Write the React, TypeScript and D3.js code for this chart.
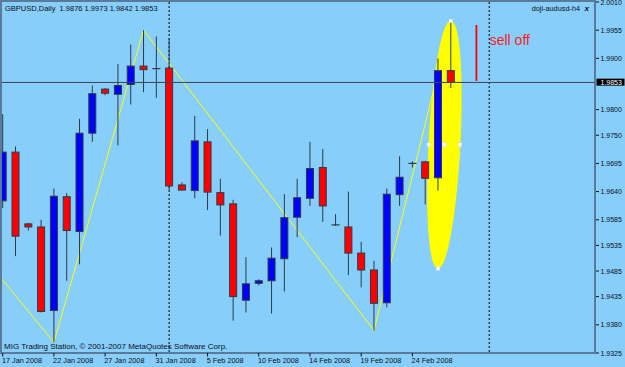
import React from "react";
import * as d3 from "d3";

// ---- data ----
const opens = [1.9622, 1.9717, 1.9577, 1.9571, 1.9408, 1.9630, 1.9562, 1.9754, 1.9840, 1.9830, 1.9849, 1.9885, 1.9880, 1.9881, 1.9653, 1.9642, 1.9737, 1.9638, 1.9616, 1.9428, 1.9461, 1.9466, 1.9509, 1.9590, 1.9627, 1.9687, 1.9575, 1.9571, 1.9520, 1.9487, 1.9423, 1.9634, 1.9695, 1.9698, 1.9667, 1.9876];
const highs = [1.9791, 1.9728, 1.9579, 1.9585, 1.9646, 1.9637, 1.9782, 1.9847, 1.9842, 1.9889, 1.9927, 1.9955, 1.9943, 1.9939, 1.9658, 1.9788, 1.9762, 1.9665, 1.9624, 1.9512, 1.9469, 1.9531, 1.9635, 1.9665, 1.9737, 1.9723, 1.9596, 1.9640, 1.9542, 1.9505, 1.9646, 1.9709, 1.9699, 1.9700, 1.9900, 1.9973];
const lows = [1.9608, 1.9514, 1.9564, 1.9404, 1.9346, 1.9466, 1.9498, 1.9737, 1.9828, 1.9730, 1.9810, 1.9834, 1.9823, 1.9643, 1.9642, 1.9627, 1.9604, 1.9554, 1.9388, 1.9404, 1.9457, 1.9402, 1.9445, 1.9551, 1.9612, 1.9581, 1.9573, 1.9477, 1.9453, 1.9369, 1.9414, 1.9612, 1.9687, 1.9615, 1.9642, 1.9842];
const closes = [1.9717, 1.9553, 1.9571, 1.9406, 1.9631, 1.9564, 1.9754, 1.9831, 1.9832, 1.9847, 1.9885, 1.9878, 1.9880, 1.9651, 1.9643, 1.9739, 1.9639, 1.9614, 1.9435, 1.9460, 1.9466, 1.9510, 1.9589, 1.9628, 1.9685, 1.9612, 1.9575, 1.9520, 1.9487, 1.9422, 1.9635, 1.9668, 1.9695, 1.9666, 1.9876, 1.9853];

const dateLabels = ["17 Jan 2008", "22 Jan 2008", "27 Jan 2008", "31 Jan 2008", "5 Feb 2008", "10 Feb 2008", "14 Feb 2008", "19 Feb 2008", "24 Feb 2008"];
const dateLabelIdx = [0, 4, 8, 12, 16, 20, 24, 28, 32];

const priceTicks = [2.001, 1.9955, 1.99, 1.98, 1.975, 1.9695, 1.964, 1.9585, 1.9535, 1.9485, 1.9435, 1.938, 1.9325];
const bidPrice = 1.9853;

const zigzagIdx = [-3, 4, 11, 29, 35];
const zigzagPrice = [1.9558, 1.9346, 1.9955, 1.9369, 1.9973];

const separatorIdx = [13, 38];

const ellipseIdx = [35, 34];
const ellipsePrice = [1.9973, 1.949];

const sellLineIdx = 37;
const sellLinePrice = [1.9965, 1.9856];
const sellTextIdx = 38;
const sellTextPrice = 1.9955;

const headerText = "GBPUSD,Daily  1.9876 1.9973 1.9842 1.9853";
const indicatorText = "doji-audusd-h4";
const copyrightText = "MIG Trading Station, \u00a9 2001-2007 MetaQuotes Software Corp.";

// ---- styles ----
const W = 625;
const H = 367;
const BG = "#87CEFA";
const FRAME = "#5a7a99";
const WICK = "#2e3a46";
const TXT = "#0c1018";
const FONT = "'Liberation Sans', Arial, sans-serif";

export default function App() {
  const plot = { left: 2, top: 2, right: 594, bottom: 352 };
  const x = d3.scaleLinear().domain([0, 35]).range([2.7, 450.8]);
  const y = d3.scaleLinear().domain([1.9325, 2.001]).range([353, 2]);

  const bodyW = 7;

  // ellipse
  const T = [x(ellipseIdx[0]), y(ellipsePrice[0])];
  const B = [x(ellipseIdx[1]), y(ellipsePrice[1])];
  const C = [(T[0] + B[0]) / 2, (T[1] + B[1]) / 2];
  const M = [T[0] - C[0], T[1] - C[1]];
  const N = [15.5, 0];
  const ts = d3.range(0, 128).map((k) => (k / 128) * Math.PI * 2);
  const ellPath = d3
    .line<number>()
    .x((t) => C[0] + M[0] * Math.cos(t) + N[0] * Math.sin(t))
    .y((t) => C[1] + M[1] * Math.cos(t) + N[1] * Math.sin(t))
    .curve(d3.curveLinearClosed)(ts);
  const handles = [T, B, [C[0] - N[0], C[1]], [C[0] + N[0], C[1]], C];

  const zz = d3
    .line<number>()
    .x((d, i) => x(zigzagIdx[i]))
    .y((d) => y(d))(zigzagPrice);

  const bidY = y(bidPrice);

  return (
    <svg
      width={W}
      height={H}
      style={{ position: "absolute", left: 0, top: 0, display: "block" }}
      fontFamily={FONT}
    >
      <defs>
        <clipPath id="plotClip">
          <rect x={plot.left} y={plot.top} width={plot.right - plot.left} height={plot.bottom - plot.top} />
        </clipPath>
      </defs>
      <rect x={0} y={0} width={W} height={H} fill={BG} />

      <g clipPath="url(#plotClip)">
        {/* ellipse object */}
        <path d={ellPath || ""} fill="#ffff00" stroke="#ffff00" strokeWidth={1} />

        {/* period separators */}
        {separatorIdx.map((s) => (
          <line key={"sep" + s} x1={x(s)} x2={x(s)} y1={plot.top} y2={plot.bottom} stroke="#000" strokeWidth={1} strokeDasharray="2,2" />
        ))}

        {/* zigzag */}
        <path d={zz || ""} fill="none" stroke="#ffff00" strokeWidth={1} />

        {/* candles */}
        {opens.map((o, i) => {
          const c = closes[i];
          const cx = x(i);
          const top = y(Math.max(o, c));
          const bot = y(Math.min(o, c));
          const up = c > o;
          const doji = Math.abs(c - o) < 0.00005;
          return (
            <g key={"c" + i}>
              <line x1={cx} x2={cx} y1={y(highs[i])} y2={y(lows[i])} stroke={WICK} strokeWidth={1} />
              {doji ? (
                <line x1={cx - 4} x2={cx + 4} y1={top} y2={top} stroke={WICK} strokeWidth={1.2} />
              ) : (
                <rect
                  x={cx - bodyW / 2}
                  y={top}
                  width={bodyW}
                  height={Math.max(1, bot - top)}
                  fill={up ? "#0000ff" : "#ff0000"}
                  stroke={WICK}
                  strokeWidth={1}
                />
              )}
            </g>
          );
        })}

        {/* bid line */}
        <line x1={plot.left} x2={plot.right} y1={bidY} y2={bidY} stroke="#3a4552" strokeWidth={1} />

        {/* sell off annotation */}
        <line
          x1={x(sellLineIdx)}
          x2={x(sellLineIdx)}
          y1={y(sellLinePrice[0])}
          y2={y(sellLinePrice[1])}
          stroke="#ff0000"
          strokeWidth={1.8}
        />
        <text x={x(sellTextIdx) + 0.5} y={y(sellTextPrice) + 15} fontSize={14} fill="#ff1a1a">
          sell off
        </text>

        {/* ellipse handles */}
        {handles.map((h, k) => (
          <rect key={"h" + k} x={h[0] - 1.8} y={h[1] - 1.8} width={3.6} height={3.6} fill="#ffffff" stroke="#d8d8d8" strokeWidth={0.5} />
        ))}

        {/* texts inside plot */}
        <text x={5} y={11} fontSize={7.5} fill={TXT} style={{ whiteSpace: "pre" }}>
          {headerText}
        </text>
        <text x={580} y={11} fontSize={7.3} fill={TXT} textAnchor="end">
          {indicatorText}
        </text>
        <text x={584.5} y={11} fontSize={8} fontWeight="bold" fontStyle="italic" fill={TXT}>
          x
        </text>
        <text x={4} y={349} fontSize={8} fill={TXT}>
          {copyrightText}
        </text>
      </g>

      {/* frame */}
      <rect x={1} y={1} width={594} height={352} fill="none" stroke={FRAME} strokeWidth={2} />

      {/* price axis */}
      {priceTicks.map((p) => (
        <g key={"p" + p}>
          <line x1={596} x2={599} y1={y(p)} y2={y(p)} stroke={TXT} strokeWidth={1} />
          <text x={600.5} y={y(p)} dy="0.36em" fontSize={7} fill={TXT}>
            {p.toFixed(4)}
          </text>
        </g>
      ))}
      <rect x={596.5} y={bidY - 3.8} width={28} height={7} fill="#000000" />
      <text x={600.5} y={bidY} dy="0.36em" fontSize={7} fill="#ffffff">
        {bidPrice.toFixed(4)}
      </text>

      {/* time axis */}
      {dateLabelIdx.map((idx, k) => (
        <g key={"d" + idx}>
          <line x1={x(idx)} x2={x(idx)} y1={353} y2={356.5} stroke={TXT} strokeWidth={1} />
          <text x={x(idx) - 0.8} y={363.3} fontSize={7.3} fill={TXT}>
            {dateLabels[k]}
          </text>
        </g>
      ))}
    </svg>
  );
}
